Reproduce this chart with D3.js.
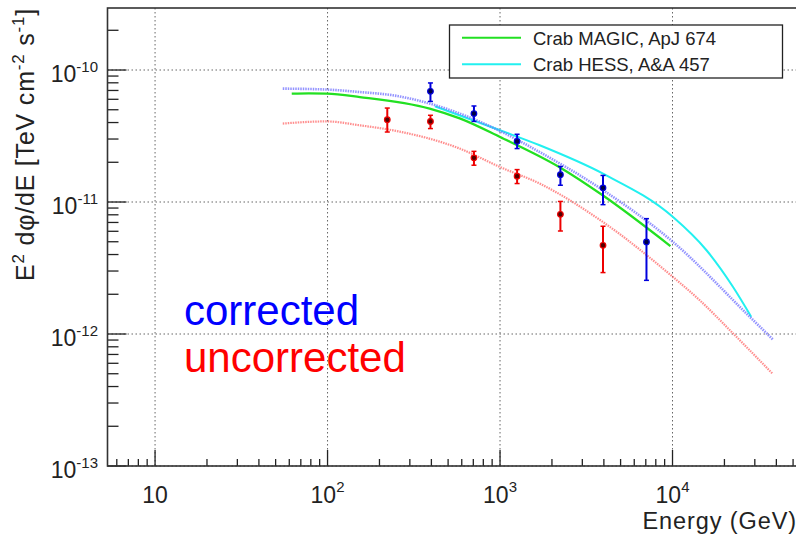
<!DOCTYPE html>
<html>
<head>
<meta charset="utf-8">
<script src="https://cdn.jsdelivr.net/npm/d3@7"></script>
<style>
body { margin: 0; background: #fff; }
text { font-family: "Liberation Sans", Arial, sans-serif; fill: #222; }
</style>
</head>
<body>
<div id="chart"></div>
<script>
var WIDTH = 796;
var HEIGHT = 536;

// measured points, corrected (blue) and uncorrected (red), energy in GeV
var corrEnergy = [395, 706, 1256, 2239, 3954, 7063];
var corrFlux = [6.9e-11, 4.68e-11, 2.88e-11, 1.61e-11, 1.28e-11, 4.98e-12];
var corrLow = [5.78e-11, 4.08e-11, 2.54e-11, 1.34e-11, 9.55e-12, 2.55e-12];
var corrHigh = [7.98e-11, 5.34e-11, 3.26e-11, 1.86e-11, 1.59e-11, 7.48e-12];

var uncorrEnergy = [222, 395, 706, 1256, 2239, 3954];
var uncorrFlux = [4.2e-11, 4.08e-11, 2.16e-11, 1.57e-11, 8.07e-12, 4.7e-12];
var uncorrLow = [3.39e-11, 3.6e-11, 1.9e-11, 1.38e-11, 6.03e-12, 2.92e-12];
var uncorrHigh = [5.15e-11, 4.54e-11, 2.42e-11, 1.76e-11, 1.01e-11, 6.55e-12];

// reference spectra
var magicEnergy = [62, 78, 99, 154, 391, 584, 1000, 2239, 3954, 9725];
var magicFlux = [6.62e-11, 6.65e-11, 6.62e-11, 6.24e-11, 5.1e-11, 4.3e-11, 3.11e-11, 1.82e-11, 1.12e-11, 4.64e-12];

var hessEnergy = [420, 1000, 1698, 3954, 10070, 15740, 22440, 28600];
var hessFlux = [5.3e-11, 3.5e-11, 2.69e-11, 1.64e-11, 7.69e-12, 4.31e-12, 2.27e-12, 1.35e-12];

// fitted spectra
var fitCorrEnergy = [55, 99, 154, 240, 584, 1000, 1698, 3954, 10070, 28050, 38100];
var fitCorrFlux = [7.23e-11, 7.11e-11, 6.81e-11, 6.43e-11, 4.68e-11, 3.45e-11, 2.39e-11, 1.23e-11, 4.98e-12, 1.35e-12, 9.12e-13];

var fitUncorrEnergy = [55, 99, 154, 240, 584, 1000, 1698, 3954, 10070, 14390, 22440, 38000];
var fitUncorrFlux = [3.93e-11, 4.08e-11, 3.81e-11, 3.49e-11, 2.54e-11, 1.84e-11, 1.38e-11, 7.05e-12, 2.7e-12, 1.8e-12, 1.01e-12, 5.01e-13];

var xMajor = [10, 100, 1000, 10000];
var yMajor = [1e-10, 1e-11, 1e-12, 1e-13];
var xLabels = [['10', ''], ['10', '2'], ['10', '3'], ['10', '4']];
var yLabels = [['10', '-10'], ['10', '-11'], ['10', '-12'], ['10', '-13']];

var legendNames = ['Crab MAGIC, ApJ 674', 'Crab HESS, A&A 457'];
var legendColors = ['#22e022', '#22f0f0'];

var LEFT = 107.5, RIGHT = 845, TOP = 8, BOTTOM = 466;

var svg = d3.select('#chart').append('svg')
	.attr('width', WIDTH)
	.attr('height', HEIGHT);

var x = d3.scaleLog().domain([5.3, 1e5]).range([LEFT, RIGHT]);
var y = d3.scaleLog().domain([1e-13, 2.95e-10]).range([BOTTOM, TOP]);

// grid
var grid = svg.append('g')
	.attr('stroke', '#666')
	.attr('stroke-width', 1)
	.attr('stroke-dasharray', '1.5,2.5');

xMajor.forEach(function(d) {
	grid.append('line')
		.attr('x1', x(d)).attr('x2', x(d))
		.attr('y1', TOP).attr('y2', BOTTOM);
});
yMajor.forEach(function(d) {
	grid.append('line')
		.attr('x1', LEFT).attr('x2', RIGHT)
		.attr('y1', y(d)).attr('y2', y(d));
});

// ticks
var ticks = svg.append('g').attr('stroke', '#222').attr('stroke-width', 1.3);

x.ticks().forEach(function(d) {
	if (x(d) < LEFT || x(d) > RIGHT) return;
	var major = xMajor.indexOf(d) >= 0;
	ticks.append('line')
		.attr('x1', x(d)).attr('x2', x(d))
		.attr('y1', BOTTOM).attr('y2', BOTTOM - (major ? 16 : 7));
});

y.ticks().forEach(function(d) {
	if (y(d) < TOP || y(d) > BOTTOM) return;
	var major = yMajor.some(function(m) { return Math.abs(m - d) / m < 1e-6; });
	ticks.append('line')
		.attr('x1', LEFT).attr('x2', LEFT + (major ? 19 : 11))
		.attr('y1', y(d)).attr('y2', y(d));
});

// frame
svg.append('rect')
	.attr('x', LEFT).attr('y', TOP)
	.attr('width', RIGHT - LEFT).attr('height', BOTTOM - TOP)
	.attr('fill', 'none')
	.attr('stroke', '#333')
	.attr('stroke-width', 1.6);

// tick labels
xMajor.forEach(function(d, i) {
	var t = svg.append('text')
		.attr('x', x(d)).attr('y', 503)
		.attr('text-anchor', 'middle')
		.style('font-size', '23px');
	t.append('tspan').text(xLabels[i][0]);
	if (xLabels[i][1]) {
		t.append('tspan').attr('dy', -11).style('font-size', '15px').text(xLabels[i][1]);
	}
});

yMajor.forEach(function(d, i) {
	var t = svg.append('text')
		.attr('x', 98).attr('y', y(d) + 12)
		.attr('text-anchor', 'end')
		.style('font-size', '23px');
	t.append('tspan').text(yLabels[i][0]);
	t.append('tspan').attr('dy', -10).style('font-size', '15px').text(yLabels[i][1]);
});

// axis titles
svg.append('text')
	.attr('x', 797).attr('y', 528.5)
	.attr('text-anchor', 'end')
	.style('font-size', '23.5px')
	.style('letter-spacing', '0.9px')
	.text('Energy (GeV)');

var yt = svg.append('text')
	.attr('transform', 'translate(34,8) rotate(-90)')
	.attr('text-anchor', 'end')
	.style('font-size', '25px')
	.style('letter-spacing', '0.8px');
yt.append('tspan').text('E');
yt.append('tspan').attr('dy', -10).style('font-size', '17px').text('2');
yt.append('tspan').attr('dy', 10).text(' dφ/dE [TeV cm');
yt.append('tspan').attr('dy', -10).style('font-size', '17px').text('-2');
yt.append('tspan').attr('dy', 10).text(' s');
yt.append('tspan').attr('dy', -10).style('font-size', '17px').text('-1');
yt.append('tspan').attr('dy', 10).text(']');

// curves
var line = d3.line()
	.x(function(d) { return x(d[0]); })
	.y(function(d) { return y(d[1]); })
	.curve(d3.curveMonotoneX);

function drawCurve(energy, flux, color, width, dash, opacity) {
	svg.append('path')
		.datum(d3.zip(energy, flux))
		.attr('d', line)
		.attr('fill', 'none')
		.attr('stroke', color)
		.attr('stroke-width', width)
		.attr('stroke-dasharray', dash)
		.attr('stroke-opacity', opacity);
}

drawCurve(fitUncorrEnergy, fitUncorrFlux, '#ff7070', 2.2, '1.5,1', 0.8);
drawCurve(hessEnergy, hessFlux, legendColors[1], 2, null, 1);
drawCurve(magicEnergy, magicFlux, legendColors[0], 2.2, null, 1);
drawCurve(fitCorrEnergy, fitCorrFlux, '#6f6fff', 2.6, '1.5,1', 0.75);

// points with error bars
function drawPoints(energy, flux, low, high, color, centre) {
	var g = svg.append('g');
	energy.forEach(function(e, i) {
		var px = x(e);
		g.append('line')
			.attr('x1', px).attr('x2', px)
			.attr('y1', y(low[i])).attr('y2', y(high[i]))
			.attr('stroke', color).attr('stroke-width', 2);
		[low[i], high[i]].forEach(function(v) {
			g.append('line')
				.attr('x1', px - 2.5).attr('x2', px + 2.5)
				.attr('y1', y(v)).attr('y2', y(v))
				.attr('stroke', color).attr('stroke-width', 1.5);
		});
		g.append('circle')
			.attr('cx', px).attr('cy', y(flux[i]))
			.attr('r', 2.8)
			.attr('fill', centre)
			.attr('stroke', color)
			.attr('stroke-width', 1.2);
	});
}

drawPoints(uncorrEnergy, uncorrFlux, uncorrLow, uncorrHigh, '#ee0000', '#550000');
drawPoints(corrEnergy, corrFlux, corrLow, corrHigh, '#0000dd', '#000044');

// legend
var legend = svg.append('g');
legend.append('rect')
	.attr('x', 449.5).attr('y', 25)
	.attr('width', 333).attr('height', 53)
	.attr('fill', '#fff')
	.attr('stroke', '#222')
	.attr('stroke-width', 1.3);
legendNames.forEach(function(name, i) {
	var ly = 37.7 + i * 26.6;
	legend.append('line')
		.attr('x1', 462).attr('x2', 521)
		.attr('y1', ly).attr('y2', ly)
		.attr('stroke', legendColors[i])
		.attr('stroke-width', 2);
	legend.append('text')
		.attr('x', 533).attr('y', ly + 7)
		.style('font-size', '18.5px')
		.text(name);
});

// annotations
svg.append('text')
	.attr('x', 184).attr('y', 325)
	.style('font-size', '42px')
	.style('fill', '#0000ff')
	.text('corrected');
svg.append('text')
	.attr('x', 184).attr('y', 372)
	.style('font-size', '42px')
	.style('fill', '#ff0000')
	.text('uncorrected');
</script>
</body>
</html>
